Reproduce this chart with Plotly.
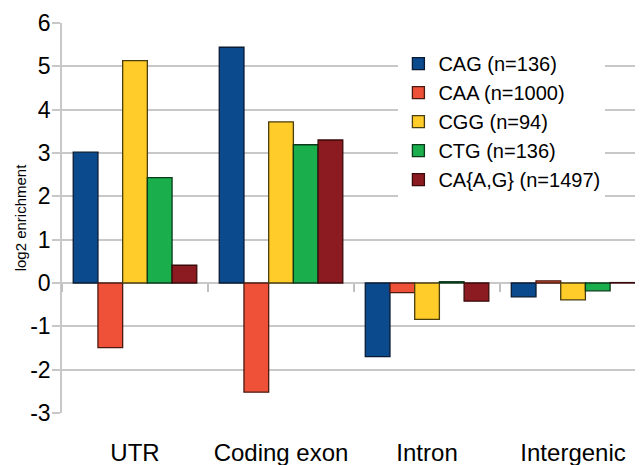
import plotly.graph_objects as go

categories = ["UTR", "Coding exon", "Intron", "Intergenic"]
series_names = ["CAG (n=136)", "CAA (n=1000)", "CGG (n=94)", "CTG (n=136)", "CA{A,G} (n=1497)"]
cag = [3.02, 5.44, -1.70, -0.32]
caa = [-1.49, -2.52, -0.22, 0.05]
cgg = [5.13, 3.72, -0.84, -0.39]
ctg = [2.43, 3.19, 0.03, -0.18]
caag = [0.41, 3.30, -0.42, 0.01]
y_ticks = [-3, -2, -1, 0, 1, 2, 3, 4, 5, 6]

values = [cag, caa, cgg, ctg, caag]
fills = ["#0b4a8c", "#ef5038", "#ffcc29", "#1aae4c", "#8b1a21"]
edges = ["#0a1a33", "#4a1a10", "#4a3e10", "#0a3a1a", "#3a0a0a"]

FONT = "Liberation Sans, Arial, sans-serif"

fig = go.Figure()
for name, vals, fc, ec in zip(series_names, values, fills, edges):
    fig.add_trace(go.Bar(
        x=categories, y=vals, name=name,
        marker=dict(color=fc, line=dict(color=ec, width=1.3)),
    ))

# invisible helper trace for the category tick marks along the zero line
fig.add_trace(go.Scatter(x=categories, y=[None] * len(categories), xaxis="x2",
                         showlegend=False, hoverinfo="skip", mode="markers"))

fig.update_layout(
    width=635, height=457,
    margin=dict(l=54, r=0, t=15, b=52, autoexpand=False),
    paper_bgcolor="white", plot_bgcolor="white",
    font=dict(family=FONT, color="#000000"),
    barmode="group", bargap=0.154, bargroupgap=0,
    xaxis=dict(
        type="category", categoryarray=categories, categoryorder="array",
        range=[-0.5, 3.479], automargin=False,
        showgrid=False, zeroline=False, showline=False, ticks="",
        tickfont=dict(size=24, family=FONT), ticklabelstandoff=23,
    ),
    xaxis2=dict(
        type="category", categoryarray=categories, categoryorder="array",
        overlaying="x", matches="x", anchor="free", position=0.3333, side="bottom",
        showticklabels=False, showgrid=False, zeroline=False, showline=False,
        ticks="outside", tickson="boundaries", ticklen=8, tickcolor="#c0c0c0", tickwidth=1.5,
        automargin=False,
    ),
    yaxis=dict(
        range=[-3, 6], tickvals=y_ticks, ticktext=[str(v) for v in y_ticks],
        automargin=False,
        showgrid=True, gridcolor="#c8c8c8", gridwidth=1.5,
        zeroline=True, zerolinecolor="#c8c8c8", zerolinewidth=1.5,
        showline=True, linecolor="#c8c8c8", linewidth=1.5,
        ticks="outside", ticklen=8, tickcolor="#c8c8c8", tickwidth=1.5,
        tickfont=dict(size=23, family=FONT), ticklabelstandoff=-3,
        title=dict(text="log2 enrichment", font=dict(size=15, family=FONT), standoff=0),
    ),
    legend=dict(
        x=0.579, y=0.946, xanchor="left", yanchor="top",
        bgcolor="white", borderwidth=0,
        font=dict(size=20, family=FONT),
        tracegroupgap=0,
    ),
    showlegend=True,
)

fig.write_html("out.html")
